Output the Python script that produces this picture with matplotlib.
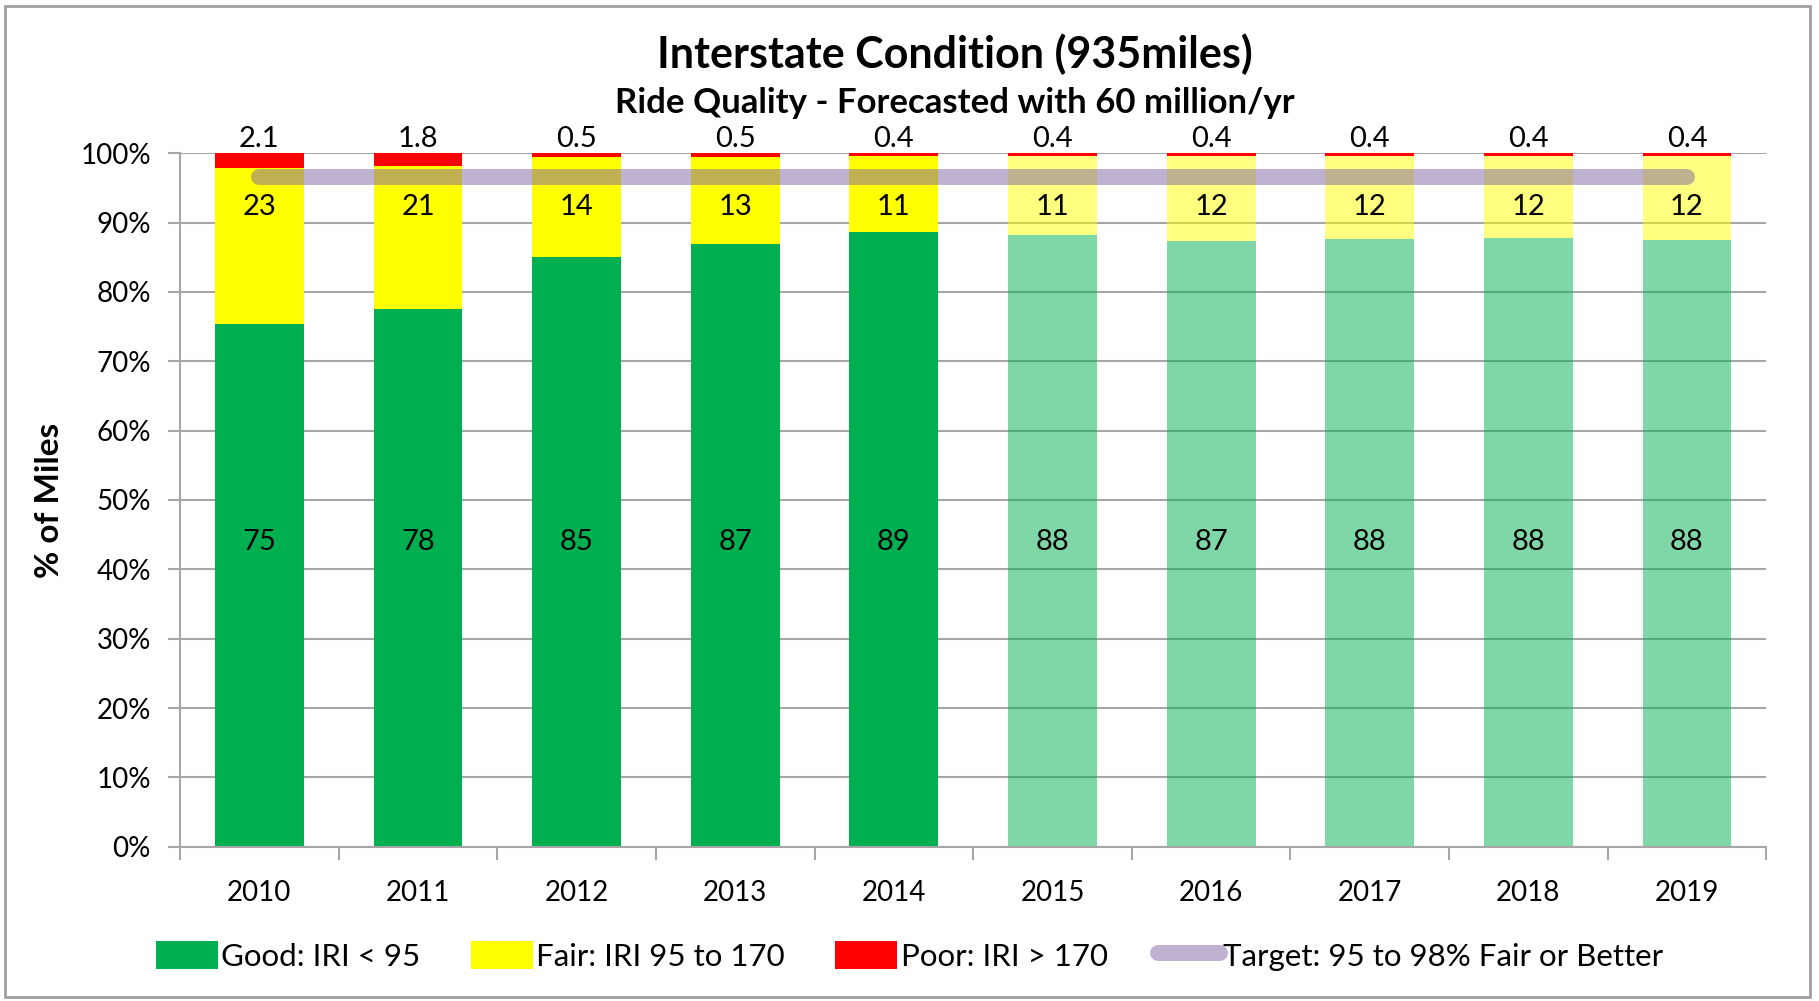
#!/usr/bin/env python3
"""Interstate ride quality condition - stacked bars with target band."""

import numpy as np
import matplotlib
matplotlib.use("Agg")
import matplotlib.pyplot as plt
from matplotlib.patches import Patch, Rectangle
from matplotlib.lines import Line2D

plt.rcParams['font.family'] = ['Lato', 'DejaVu Sans']

# Data (percent of miles)
years = ['2010', '2011', '2012', '2013', '2014', '2015', '2016', '2017', '2018', '2019']
good = [75.3, 77.6, 85.1, 86.9, 88.6, 88.2, 87.3, 87.6, 87.8, 87.5]
fair = [22.6, 20.6, 14.4, 12.6, 11.0, 11.4, 12.3, 12.0, 11.8, 12.1]
poor = [2.1, 1.8, 0.5, 0.5, 0.4, 0.4, 0.4, 0.4, 0.4, 0.4]
forecast = [False] * 5 + [True] * 5
target = 96.5

GREEN = '#00B050'
YELLOW = '#FFFF00'
RED = '#FF0000'
PURPLE = '#8064A2'
GRID = '#A6A6A6'


def main():
    fig = plt.figure(figsize=(18.19, 10.01), dpi=100)
    ax = fig.add_axes([0.099, 0.154, 0.872, 0.693])

    x = np.arange(len(years))
    good_a = np.array(good)
    fair_a = np.array(fair)
    poor_a = np.array(poor)
    alphas = [0.5 if f else 1.0 for f in forecast]

    w = 0.56
    for i in x:
        a = alphas[i]
        ax.bar(i, good_a[i], w, color=GREEN, alpha=a, linewidth=0, zorder=2)
        ax.bar(i, fair_a[i], w, bottom=good_a[i], color=YELLOW, alpha=a,
               linewidth=0, zorder=2)
        ax.bar(i, poor_a[i], w, bottom=good_a[i] + fair_a[i], color=RED,
               linewidth=0, zorder=2)

    # target band
    ax.plot([x[0], x[-1]], [target, target], color=PURPLE, alpha=0.5,
            linewidth=11.5, solid_capstyle='round', zorder=3)

    # data labels
    for i in x:
        ax.text(i, 44, f'{good_a[i]:.0f}', ha='center', va='center',
                fontsize=21, color='black', zorder=4)
        ax.text(i, 92.3, f'{fair_a[i]:.0f}', ha='center', va='center',
                fontsize=21, color='black', zorder=4)
        ax.text(i, 102.0, f'{poor_a[i]:.1f}', ha='center', va='center',
                fontsize=21, color='black', zorder=4, clip_on=False)

    ax.set_xlim(-0.5, len(years) - 0.5)
    ax.set_ylim(0, 100)
    ax.set_yticks(np.arange(0, 101, 10))
    ax.set_yticklabels([f'{v}%' for v in range(0, 101, 10)], fontsize=20)
    ax.set_xticks(x)
    ax.set_xticklabels(years, fontsize=20)
    ax.set_xticks(np.arange(-0.5, len(years)), minor=True)
    ax.tick_params(axis='x', which='major', length=0, pad=24)
    ax.tick_params(axis='x', which='minor', length=9, color=GRID, width=1.5)
    ax.tick_params(axis='y', length=9, color=GRID, width=1.5, pad=12)

    ax.grid(axis='y', color=GRID, linewidth=1.5, zorder=0)
    ax.set_axisbelow(True)
    for s in ['top', 'right']:
        ax.spines[s].set_visible(False)
    for s in ['left', 'bottom']:
        ax.spines[s].set_color(GRID)
        ax.spines[s].set_linewidth(1.5)

    ax.set_ylabel('% of Miles', fontsize=24, fontweight='bold', labelpad=12)

    fig.text(0.525, 0.946, 'Interstate Condition (935miles)', ha='center',
             va='center', fontsize=31, fontweight='bold')
    fig.text(0.525, 0.897, 'Ride Quality - Forecasted with 60 million/yr',
             ha='center', va='center', fontsize=25, fontweight='bold')

    handles = [
        Patch(facecolor=GREEN, label='Good: IRI < 95'),
        Patch(facecolor=YELLOW, label='Fair: IRI 95 to 170'),
        Patch(facecolor=RED, label='Poor: IRI > 170'),
        Line2D([0], [0], color=PURPLE, alpha=0.5, linewidth=11.5,
               solid_capstyle='round', label='Target: 95 to 98% Fair or Better'),
    ]
    fig.legend(handles=handles, loc='center', bbox_to_anchor=(0.5, 0.045),
               ncol=4, frameon=False, fontsize=22.5, handlelength=2.0,
               handleheight=1.0, handletextpad=0.1, columnspacing=1.6)

    # outer chart border
    fig.patches.append(Rectangle((0.003, 0.004), 0.992, 0.99, transform=fig.transFigure,
                                 fill=False, edgecolor='#A0A0A0', linewidth=2))

    fig.savefig('out.png', dpi=100)


if __name__ == "__main__":
    main()
